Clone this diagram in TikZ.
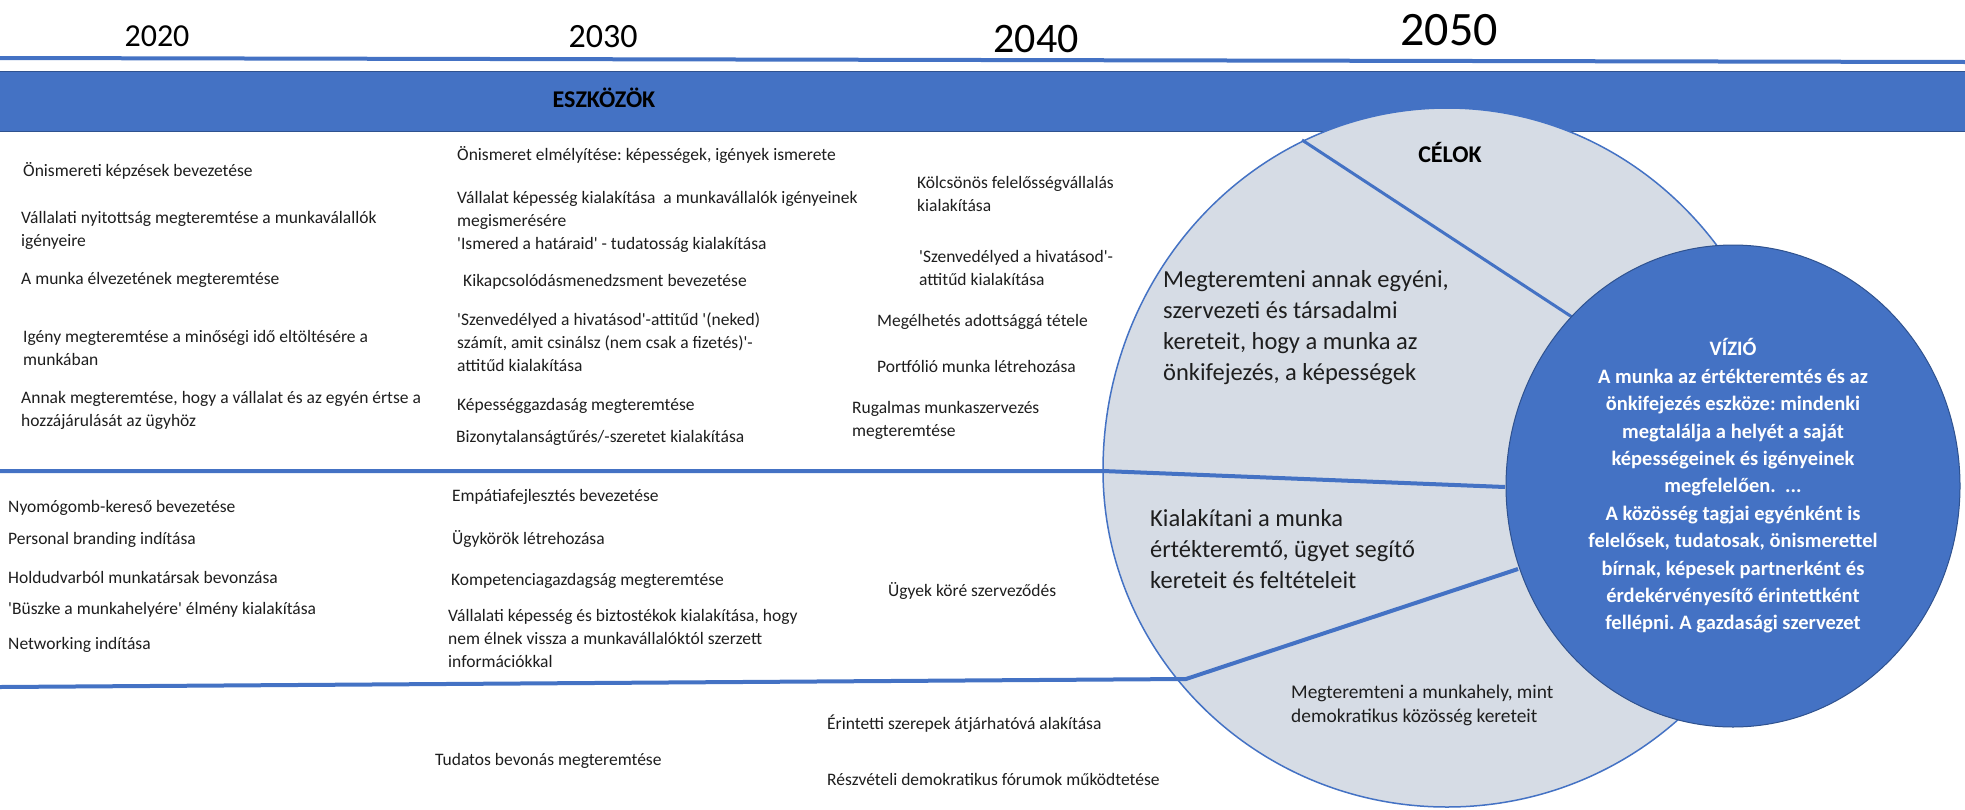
\documentclass[tikz,border=0pt]{standalone}
\usepackage{fontspec}
\setmainfont{Carlito}
\usetikzlibrary{shapes.geometric}
\definecolor{offblue}{RGB}{68,114,196}
\definecolor{darkblue}{RGB}{47,82,143}
\definecolor{goalfill}{RGB}{214,220,229}
\definecolor{ink}{RGB}{30,30,30}
\newcommand\sq{\textquotesingle}
\frenchspacing
\begin{document}
\begin{tikzpicture}[x=1pt,y=-1pt,
  item/.style={anchor=west,align=left,inner sep=0pt,text=ink,
    font=\fontsize{17.5}{23}\selectfont},
  goal/.style={anchor=west,align=left,inner sep=0pt,text=ink,
    font=\fontsize{24.5}{31}\selectfont},
  head/.style={inner sep=0pt,text=black,font=\bfseries\fontsize{24}{24}\selectfont},
  divider/.style={offblue,line width=4pt},
  vision/.style={ellipse,draw=darkblue,fill=offblue,line width=1pt,
    minimum width=454pt,minimum height=482pt,inner sep=0pt,align=center,
    text=white,font=\bfseries\fontsize{20.5}{27.4}\selectfont}]
\fill[white] (0,0) rectangle (1965,809);
\useasboundingbox (0,0) rectangle (1965,809);
% years
\foreach \yr/\x/\y/\s in {2020/157/36/32,2030/603/37/34,2040/1036/39/42,2050/1449/30/48}
  \node[inner sep=0pt,font=\fontsize{\s}{\s}\selectfont] (year\yr) at (\x,\y) {\yr};
\draw[divider] (0,58) -- (1965,62);
% tools band
\draw[darkblue,fill=offblue,line width=1pt] (-2,71) rectangle (1967,131);
\node[head] (tools) at (604,98) {ESZKÖZÖK};
% goals
\draw[offblue,fill=goalfill,line width=1.5pt] (1103,470)
  arc[start angle=180,end angle=360,x radius=344,y radius=362]
  arc[start angle=0,end angle=180,x radius=344,y radius=337] -- cycle;
\coordinate (midL) at (0,471);
\coordinate (midK) at (1103,471);
\coordinate (midR) at (1505,487);
\coordinate (lowL) at (0,687);
\coordinate (lowK) at (1186,679);
\coordinate (lowR) at (1518,569);
\coordinate (topK) at (1302,140);
\coordinate (topR) at (1572,317);
\draw[divider] (midL) -- (midK) -- (midR);
\draw[divider] (lowL) -- (lowK) -- (lowR);
\draw[divider,line width=3pt] (topK) -- (topR);
\node[head] (celok) at (1450,153) {CÉLOK};
\node[goal] (goalSelf) at (1163,328) {Megteremteni annak egyéni,\\szervezeti és társadalmi\\kereteit, hogy a munka az\\önkifejezés, a képességek};
\node[goal] (goalValue) at (1150,549) {Kialakítani a munka\\értékteremtő, ügyet segítő\\kereteit és feltételeit};
\node[item,font=\fontsize{19.4}{24}\selectfont] (goalDemo) at (1291,705) {Megteremteni a munkahely, mint\\demokratikus közösség kereteit};
% vision
\node[vision] (vision) at (1733,486) {VÍZIÓ\\A munka az értékteremtés és az\\önkifejezés eszköze: mindenki\\megtalálja a helyét a saját\\képességeinek és igényeinek\\megfelelően.\ \ ...\\A közösség tagjai egyénként is\\felelősek, tudatosak, önismerettel\\bírnak, képesek partnerként és\\érdekérvényesítő érintettként\\fellépni. A gazdasági szervezet};
% 2020
\node[item] (a1) at (23,171) {Önismereti képzések bevezetése};
\node[item] (a2) at (21,230) {Vállalati nyitottság megteremtése a munkaválallók\\igényeire};
\node[item] (a3) at (21,280) {A munka élvezetének megteremtése};
\node[item] (a4) at (23,348) {Igény megteremtése a minőségi idő eltöltésére a\\munkában};
\node[item] (a5) at (21,410) {Annak megteremtése, hogy a vállalat és az egyén értse a\\hozzájárulását az ügyhöz};
% 2030
\node[item] (b1) at (457,155) {Önismeret elmélyítése: képességek, igények ismerete};
\node[item] (b2) at (457,210) {Vállalat képesség kialakítása\ \ a munkavállalók igényeinek\\megismerésére};
\node[item] (b3) at (457,245) {\sq Ismered a határaid\sq{} - tudatosság kialakítása};
\node[item] (b4) at (463,282) {Kikapcsolódásmenedzsment bevezetése};
\node[item] (b5) at (457,342) {\sq Szenvedélyed a hivatásod\sq-attitűd \sq(neked)\\számít, amit csinálsz (nem csak a fizetés)\sq-\\attitűd kialakítása};
\node[item] (b6) at (457,406) {Képességgazdaság megteremtése};
\node[item] (b7) at (456,438) {Bizonytalanságtűrés/-szeretet kialakítása};
% 2040
\node[item] (c1) at (917,194) {Kölcsönös felelősségvállalás\\kialakítása};
\node[item] (c2) at (919,268) {\sq Szenvedélyed a hivatásod\sq-\\attitűd kialakítása};
\node[item] (c3) at (877,322) {Megélhetés adottsággá tétele};
\node[item] (c4) at (877,366) {Portfólió munka létrehozása};
\node[item] (c5) at (852,420) {Rugalmas munkaszervezés\\megteremtése};
% lower band
\foreach \t/\y [count=\i] in {Nyomógomb-kereső bevezetése/508,Personal branding indítása/540,
    Holdudvarból munkatársak bevonzása/577,\sq Büszke a munkahelyére\sq{} élmény kialakítása/610,
    Networking indítása/645}
  \node[item] (d\i) at (8,\y) {\t};
\node[item] (e1) at (452,497) {Empátiafejlesztés bevezetése};
\node[item] (e2) at (452,539) {Ügykörök létrehozása};
\node[item] (e3) at (451,581) {Kompetenciagazdagság megteremtése};
\node[item] (e4) at (448,638) {Vállalati képesség és biztostékok kialakítása, hogy\\nem élnek vissza a munkavállalóktól szerzett\\információkkal};
\node[item] (f1) at (888,591) {Ügyek köré szerveződés};
% bottom
\node[item] (g1) at (435,761) {Tudatos bevonás megteremtése};
\node[item] (g2) at (827,724) {Érintetti szerepek átjárhatóvá alakítása};
\node[item] (g3) at (827,779) {Részvételi demokratikus fórumok működtetése};
\end{tikzpicture}
\end{document}
